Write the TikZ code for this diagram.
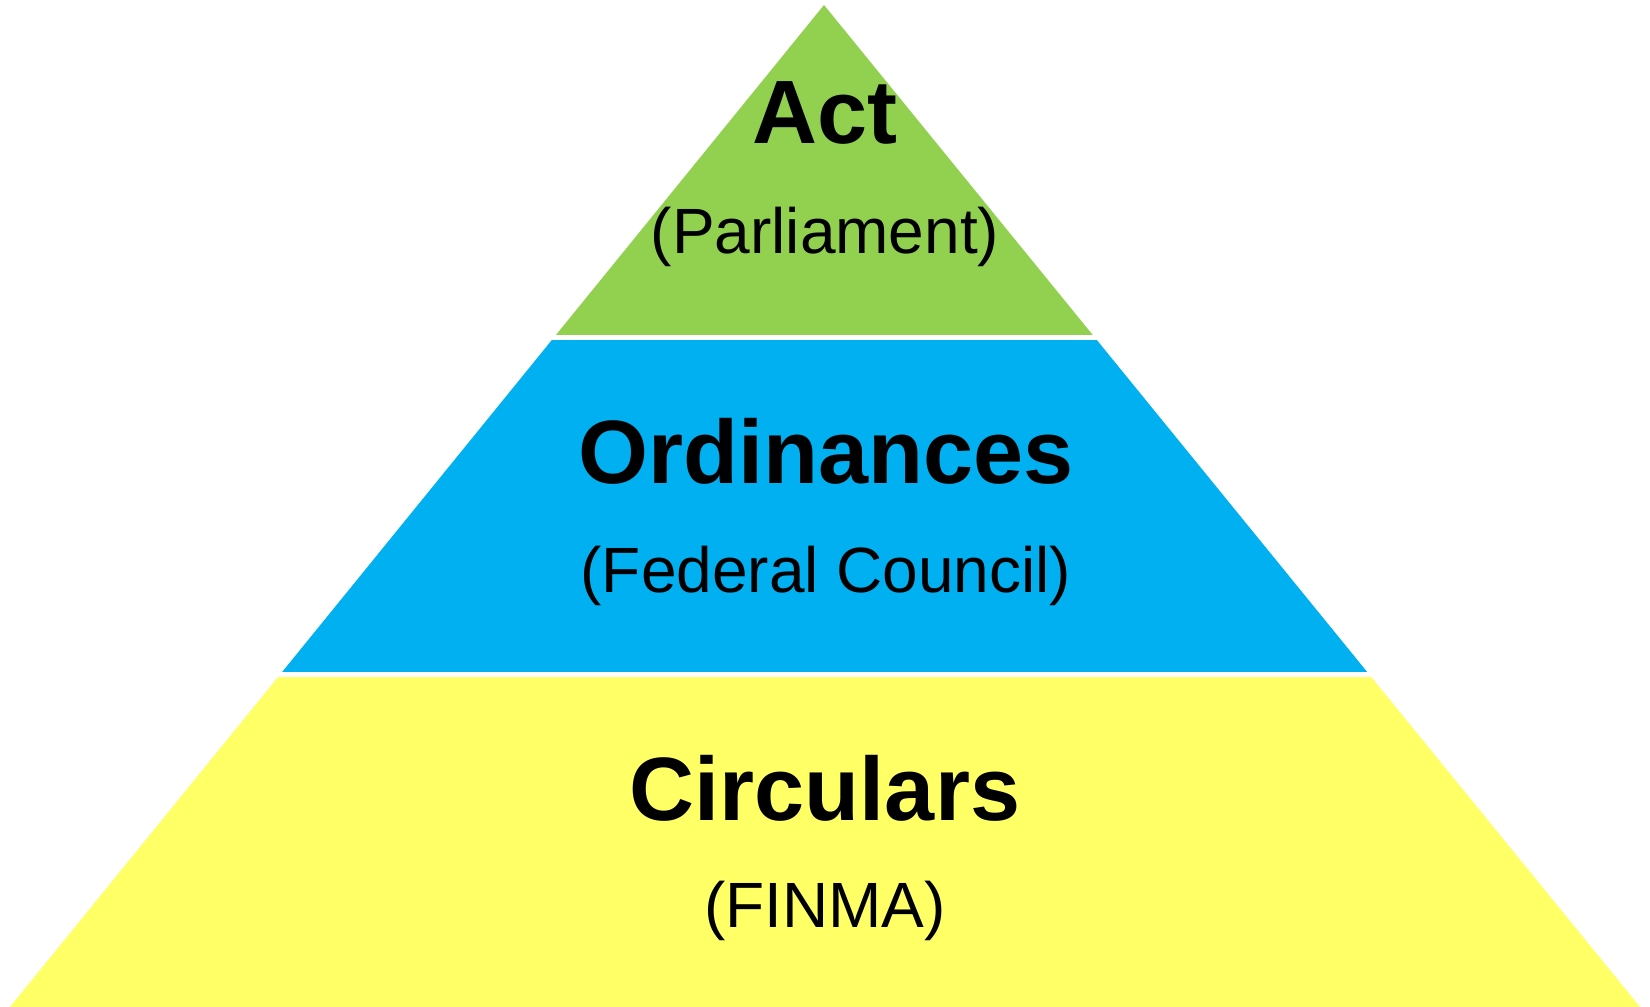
\documentclass[tikz,border=0pt]{standalone}
\usepackage{fontspec}
\setmainfont{Liberation Sans}
\definecolor{actgreen}{HTML}{92D050}
\definecolor{ordblue}{HTML}{00B0F0}
\definecolor{circyellow}{HTML}{FFFF66}
\begin{document}
\begin{tikzpicture}[x=1pt,y=-1pt,
  title/.style={inner sep=0pt,anchor=base,font=\fontsize{90}{90}\selectfont\bfseries},
  sub/.style={inner sep=0pt,anchor=base,font=\fontsize{64}{64}\selectfont}]
\useasboundingbox (0,0) rectangle (1650,1007);
\coordinate (apex) at (824,5);
\coordinate (bl) at (10,1007);
\coordinate (br) at (1640,1007);
\begin{scope}
  \clip (0,0) rectangle (1650,334.7);
  \fill[actgreen] (apex) -- (bl) -- (br) -- cycle;
\end{scope}
\begin{scope}
  \clip (0,340.7) rectangle (1650,671.7);
  \fill[ordblue] (apex) -- (bl) -- (br) -- cycle;
\end{scope}
\begin{scope}
  \clip (0,677) rectangle (1650,1007);
  \fill[circyellow] (apex) -- (bl) -- (br) -- cycle;
\end{scope}
\node[title] (act) at (825,143) {Act};
\node[sub] (parl) at (825,253) {(Parliament)};
\node[title] (ord) at (826,483) {Ordinances};
\node[sub] (fed) at (826,592) {(Federal Council)};
\node[title] (circ) at (825,820) {Circulars};
\node[sub] (finma) at (825,927) {(FINMA)};
\end{tikzpicture}
\end{document}
